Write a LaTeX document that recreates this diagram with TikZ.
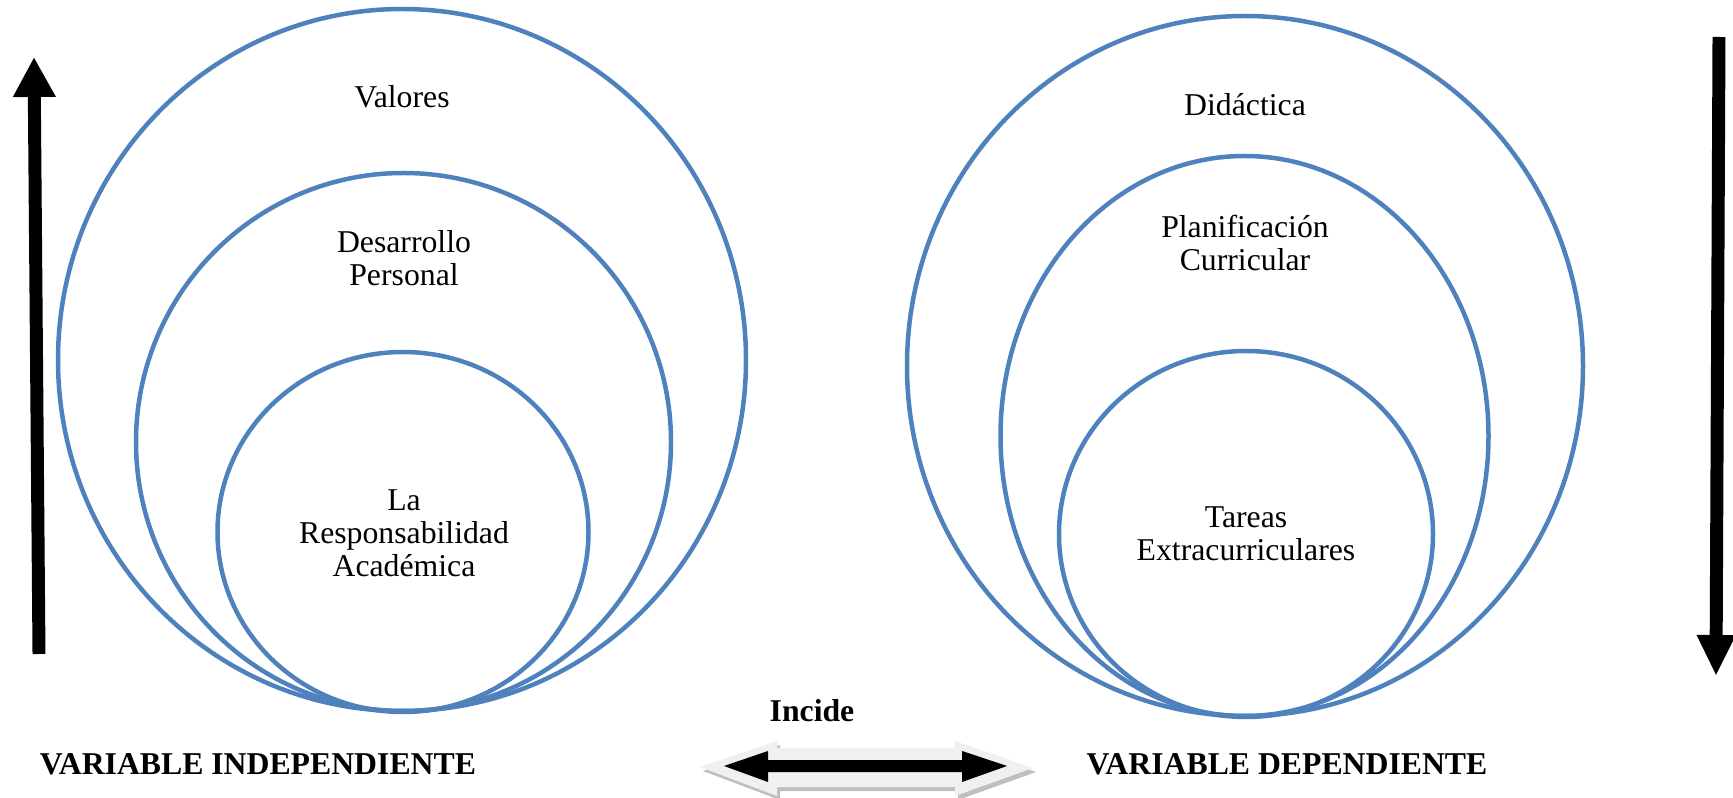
\documentclass[tikz,border=0pt]{standalone}
\usepackage{fontspec}
\setmainfont{Liberation Serif}
\usetikzlibrary{arrows.meta}

\definecolor{ringblue}{HTML}{4F81BD}

\begin{document}
\begin{tikzpicture}[x=0.378pt, y=-0.378pt,
  ring/.style={draw=ringblue, line width=1.7pt},
  ringtext/.style={align=center, font=\fontsize{12}{12.4}\selectfont},
  vartext/.style={font=\bfseries\fontsize{12}{14}\selectfont}]

\useasboundingbox (0,0) rectangle (1733,798);

% Left group of rings
\draw[ring] (402,360) ellipse [x radius=344, y radius=351];
\draw[ring] (403.5,442) ellipse [x radius=267.5, y radius=269];
\draw[ring] (403,532) ellipse [x radius=185.5, y radius=180];

% Right group of rings
\draw[ring] (1245,366) ellipse [x radius=338, y radius=350];
\draw[ring] (1244.5,436) ellipse [x radius=244, y radius=280];
\draw[ring] (1246,534) ellipse [x radius=187, y radius=183];

% Texts inside the rings
\node[ringtext] (valores) at (402,97) {Valores};
\node[ringtext] (desarrollo) at (404,258) {Desarrollo\\Personal};
\node[ringtext] (responsabilidad) at (404,533) {La\\Responsabilidad\\Académica};
\node[ringtext] (didactica) at (1245,105) {Didáctica};
\node[ringtext] (planificacion) at (1245,243) {Planificación\\Curricular};
\node[ringtext] (tareas) at (1246,534) {Tareas\\Extracurriculares};

% Bottom labels
\node[vartext] (incide) at (812,711) {Incide};
\node[vartext] (varind) at (258,764) {VARIABLE INDEPENDIENTE};
\node[vartext] (vardep) at (1287,764) {VARIABLE DEPENDIENTE};

% Side arrows
\coordinate (upstart) at (39,654);
\coordinate (upend) at (34,57);
\coordinate (downstart) at (1719,37);
\coordinate (downend) at (1716,676);
\draw[line width=4.9pt, -{Triangle[length=15.1pt, width=15.1pt]}] (upstart) -- (upend);
\draw[line width=4.9pt, -{Triangle[length=15.5pt, width=13.6pt]}] (downstart) -- (downend);

% Double arrow between the variables
\fill[gray!50, shift={(3,4)}] (700,767) -- (777,741) -- (777,748) -- (955,748) -- (955,741)
  -- (1033,768) -- (955,796) -- (955,787) -- (777,787) -- (777,796) -- cycle;
\fill[gray!12] (700,767) -- (777,741) -- (777,748) -- (955,748) -- (955,741)
  -- (1033,768) -- (955,796) -- (955,787) -- (777,787) -- (777,796) -- cycle;
\fill[black] (724,766) -- (768,751) -- (768,760) -- (962,760) -- (962,751)
  -- (1007,766) -- (962,782) -- (962,772) -- (768,772) -- (768,782) -- cycle;

\end{tikzpicture}
\end{document}
